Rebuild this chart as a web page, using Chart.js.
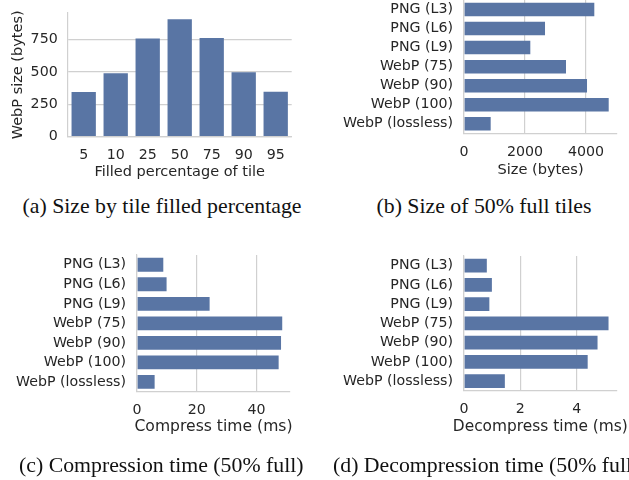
<!DOCTYPE html>
<html>
<head>
<meta charset="utf-8">
<script src="https://cdn.jsdelivr.net/npm/chart.js@4/dist/chart.umd.min.js"></script>
<style>
  body { margin: 0; background: #fff; width: 629px; height: 480px; overflow: hidden; position: relative; }
  .panel { position: absolute; }
  .cap { position: absolute; font-family: "Liberation Serif", "Times New Roman", serif; font-size: 21.8px;
         line-height: 22px; color: #111; white-space: nowrap; }
</style>
</head>
<body>
<div class="panel" style="left:0;top:0;width:310px;height:190px"><canvas id="chartA" width="310" height="190"></canvas></div>
<div class="panel" style="left:310px;top:0;width:319px;height:190px"><canvas id="chartB" width="319" height="190"></canvas></div>
<div class="panel" style="left:0;top:240px;width:310px;height:240px"><canvas id="chartC" width="310" height="240"></canvas></div>
<div class="panel" style="left:310px;top:240px;width:319px;height:240px"><canvas id="chartD" width="319" height="240"></canvas></div>

<div class="cap" style="left:22.5px;top:195px">(a) Size by tile filled percentage</div>
<div class="cap" style="left:376.5px;top:195px">(b) Size of 50% full tiles</div>
<div class="cap" style="left:19px;top:453.5px">(c) Compression time (50% full)</div>
<div class="cap" style="left:333px;top:453.5px">(d) Decompression time (50% full)</div>

<script>
// data
var fillLabels = ['5', '10', '25', '50', '75', '90', '95'];
var fillSizes = [345, 489, 759, 906, 762, 497, 347];
var fillTicks = [0, 250, 500, 750];

var codecs = ['PNG (L3)', 'PNG (L6)', 'PNG (L9)', 'WebP (75)', 'WebP (90)', 'WebP (100)', 'WebP (lossless)'];
var codecSizes = [4272, 2656, 2174, 3344, 4033, 4744, 875];
var sizeTicks = [0, 2000, 4000];
var compressMs = [8.8, 9.9, 24.3, 48.6, 48.2, 47.4, 5.9];
var compressTicks = [0, 20, 40];
var decompressMs = [0.81, 0.99, 0.90, 5.13, 4.74, 4.39, 1.45];
var decompressTicks = [0, 2, 4];

var barColor = 'rgb(89, 117, 164)';
var gridColor = '#d0d0d0';
var textColor = '#262626';
var tickFont = { family: 'DejaVu Sans', size: 14.2 };

Chart.defaults.animation = false;
Chart.defaults.color = textColor;

// pin axis boxes so the plot area lands where it is in the figure
function fixW(w) { return function(s) { s.width = w; s.paddingTop = 0; s.paddingBottom = 0 } }
function fixH(h) { return function(s) { s.height = h; s.paddingLeft = 0; s.paddingRight = 0 } }
function setTicks(vals) { return function(s) { s.ticks = vals.map(function(v) { return { value: v } }) } }
function plain(v) { return String(v) }

// x axis title drawn without the maxWidth squeeze chart.js applies
var xTitlePlugin = {
    id: 'xTitle',
    afterDraw: function(chart, args, o) {
        if (!o.text) return
        var ctx = chart.ctx, a = chart.chartArea
        ctx.save()
        ctx.font = o.size + 'px "DejaVu Sans"'
        ctx.fillStyle = textColor
        ctx.textAlign = 'center'
        ctx.textBaseline = 'middle'
        ctx.fillText(o.text, (a.left + a.right) / 2, o.y)
        ctx.restore()
    }
}

function hbar(id, values, opt) {
    var ctx = document.getElementById(id).getContext('2d')
    return new Chart(ctx, {
        type: 'bar',
        data: {
            labels: codecs,
            datasets: [{ data: values, backgroundColor: barColor, borderWidth: 0,
                         barPercentage: 0.71, categoryPercentage: 1 }]
        },
        plugins: [xTitlePlugin],
        options: {
            indexAxis: 'y',
            responsive: false,
            devicePixelRatio: 1,
            layout: { padding: { top: opt.top, right: opt.right, left: 0, bottom: 0 } },
            plugins: {
                legend: { display: false }, tooltip: { enabled: false },
                xTitle: { text: opt.title, size: opt.titleSize, y: opt.titleY }
            },
            scales: {
                y: {
                    grid: { display: false, drawTicks: false },
                    border: { display: true, color: gridColor, width: 1.2 },
                    ticks: { font: tickFont, padding: 11, autoSkip: false },
                    afterFit: fixW(opt.yw)
                },
                x: {
                    min: 0, max: opt.max,
                    grid: { color: gridColor, lineWidth: 1.2, drawTicks: false },
                    border: { display: true, color: gridColor, width: 1.2 },
                    ticks: { font: tickFont, padding: opt.tp, callback: plain },
                    afterBuildTicks: setTicks(opt.ticks),
                    afterFit: fixH(opt.xh)
                }
            }
        }
    })
}

(function() {
    var ctx = document.getElementById('chartA').getContext('2d')
    new Chart(ctx, {
        type: 'bar',
        data: {
            labels: fillLabels,
            datasets: [{ data: fillSizes, backgroundColor: barColor, borderWidth: 0,
                         barPercentage: 0.76, categoryPercentage: 1 }]
        },
        options: {
            responsive: false,
            devicePixelRatio: 1,
            layout: { padding: { top: 13, right: 18.3, left: 0, bottom: 0 } },
            plugins: { legend: { display: false }, tooltip: { enabled: false } },
            scales: {
                x: {
                    grid: { display: false, drawTicks: false },
                    border: { display: true, color: gridColor, width: 1.2 },
                    ticks: { font: tickFont, padding: 9.8 },
                    title: { display: true, text: 'Filled percentage of tile', font: { family: 'DejaVu Sans', size: 14.5 },
                             padding: { top: 0, bottom: 9.3 } },
                    afterFit: fixH(53.3)
                },
                y: {
                    min: 0, max: 955,
                    grid: { color: gridColor, lineWidth: 1.2, drawTicks: false },
                    border: { display: true, color: gridColor, width: 1.2 },
                    ticks: { font: tickFont, padding: 10, callback: plain },
                    afterBuildTicks: setTicks(fillTicks),
                    title: { display: true, text: 'WebP size (bytes)', font: { family: 'DejaVu Sans', size: 14.5 },
                             padding: { top: 10, bottom: 0 } },
                    afterFit: fixW(67.7)
                }
            }
        }
    })

    hbar('chartB', codecSizes, { top: 0, right: 12, yw: 154, xh: 56.7, max: 5016, ticks: sizeTicks, tp: 11,
                                 title: 'Size (bytes)', titleSize: 14.6, titleY: 170 })
    hbar('chartC', compressMs, { top: 15, right: 20, yw: 137, xh: 88.3, max: 51.2, ticks: compressTicks, tp: 9.8,
                                 title: 'Compress time (ms)', titleSize: 15.6, titleY: 187 })
    hbar('chartD', decompressMs, { top: 16, right: 12.3, yw: 154, xh: 89.3, max: 5.42, ticks: decompressTicks, tp: 10,
                                   title: 'Decompress time (ms)', titleSize: 15.4, titleY: 187.3 })
})()
</script>
</body>
</html>
